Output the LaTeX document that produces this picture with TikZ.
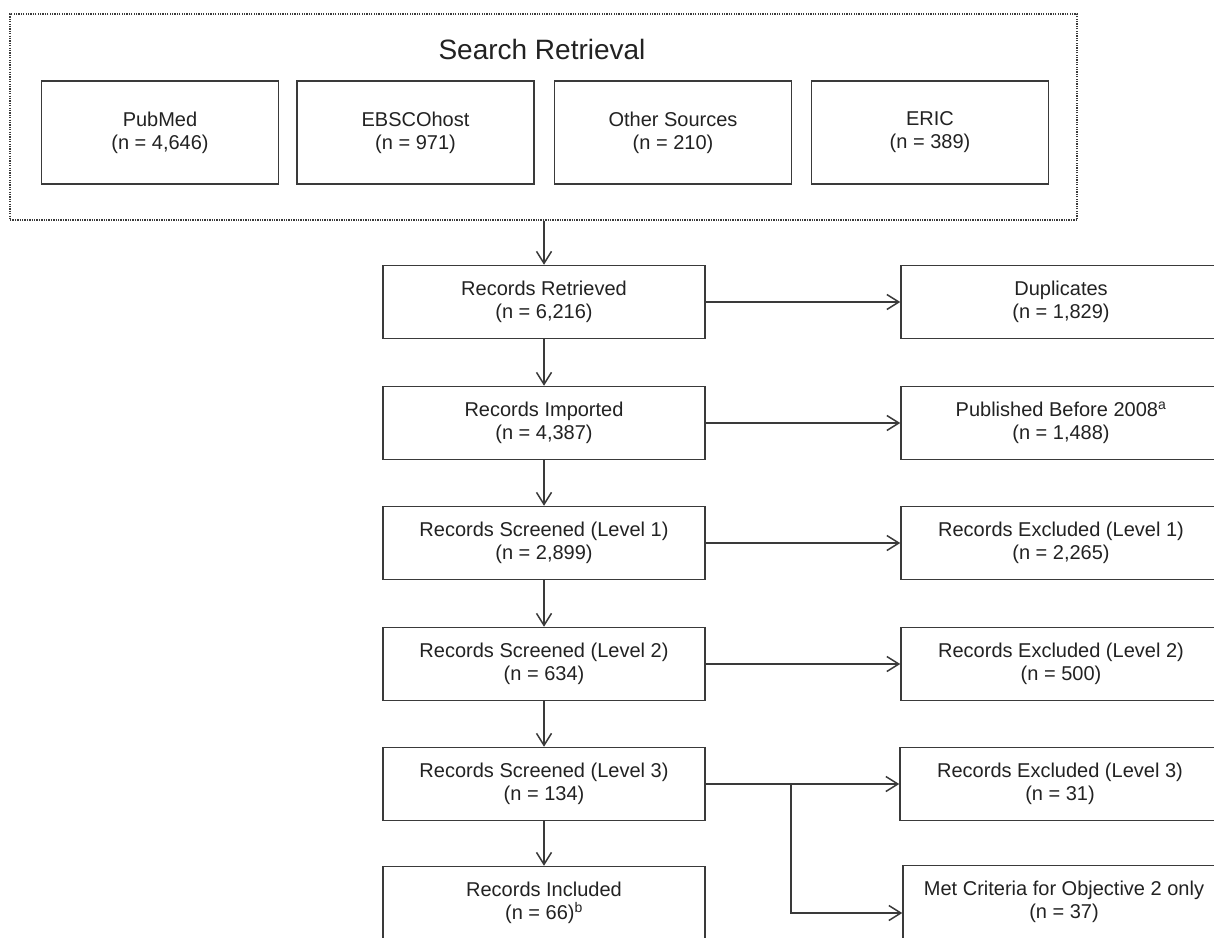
\documentclass[tikz,border=0pt]{standalone}
\usepackage{fontspec}
\setmainfont{Liberation Sans}
\usetikzlibrary{arrows.meta,calc}
\definecolor{ink}{HTML}{222222}
\definecolor{edgec}{HTML}{3A3A3A}
\begin{document}
\begin{tikzpicture}[x=1pt,y=-1pt,
  basebox/.style={draw=edgec, line width=1.5pt, fill=white, text=ink, align=center,
    font=\fontsize{20}{23}\selectfont, inner sep=0pt, minimum height=73pt},
  mainbox/.style={basebox, minimum width=322pt},
  sidebox/.style={basebox, minimum width=320pt},
  srcbox/.style={basebox, minimum width=237pt, minimum height=103pt},
  outerbox/.style={draw=edgec, line width=1.4pt, dash pattern=on 1.3pt off 1.1pt,
    minimum width=1067pt, minimum height=206pt, inner sep=0pt},
  titletext/.style={text=ink, font=\fontsize{28}{32}\selectfont, inner sep=0pt},
  arr/.style={draw=edgec, line width=1.5pt, -{Straight Barb[length=12pt,width=15pt]}}
]
\useasboundingbox (0,0) rectangle (1214,937);
\fill[white] (0,0) rectangle (1214,937);

% search retrieval group
\node[outerbox] (search) at (543.5,117) {};
\node[titletext, anchor=base] (title) at (542,59) {Search Retrieval};
\node[srcbox] (pubmed) at (160,132.5) {PubMed\\(n = 4,646)};
\node[srcbox] (ebsco) at (415.5,132.5) {EBSCOhost\\(n = 971)};
\node[srcbox] (other) at (673,132.5) {Other Sources\\(n = 210)};
\node[srcbox] (eric) at (930,132.5) {ERIC\\(n = 389)};

% main column
\node[mainbox] (rr) at (544,302) {Records Retrieved\\(n = 6,216)};
\node[mainbox] (ri) at (544,423) {Records Imported\\(n = 4,387)};
\node[mainbox] (s1) at (544,543) {Records Screened (Level 1)\\(n = 2,899)};
\node[mainbox] (s2) at (544,664) {Records Screened (Level 2)\\(n = 634)};
\node[mainbox] (s3) at (544,784) {Records Screened (Level 3)\\(n = 134)};
\node[mainbox] (inc) at (544,903) {Records Included\\(n = 66)\textsuperscript{b}};

% side column
\node[sidebox] (dup) at (1061,302) {Duplicates\\(n = 1,829)};
\node[sidebox] (pub) at (1061,423) {Published Before 2008\textsuperscript{a}\\(n = 1,488)};
\node[sidebox] (x1) at (1061,543) {Records Excluded (Level 1)\\(n = 2,265)};
\node[sidebox] (x2) at (1061,664) {Records Excluded (Level 2)\\(n = 500)};
\node[sidebox] (x3) at (1060,784) {Records Excluded (Level 3)\\(n = 31)};
\node[sidebox, minimum width=322pt] (met) at (1064,902) {Met Criteria for Objective 2 only\\(n = 37)};

% connectors
\draw[arr] (search.south -| rr.north) -- (rr.north);
\draw[arr] (rr) -- (ri);
\draw[arr] (ri) -- (s1);
\draw[arr] (s1) -- (s2);
\draw[arr] (s2) -- (s3);
\draw[arr] (s3) -- (inc);

\draw[arr] (rr) -- (dup);
\draw[arr] (ri) -- (pub);
\draw[arr] (s1) -- (x1);
\draw[arr] (s2) -- (x2);
\draw[arr] (s3) -- (x3);
\coordinate (fork) at (791,784);
\draw[arr] (fork) |- ($(met.west)+(0,11)$);
\end{tikzpicture}
\end{document}
